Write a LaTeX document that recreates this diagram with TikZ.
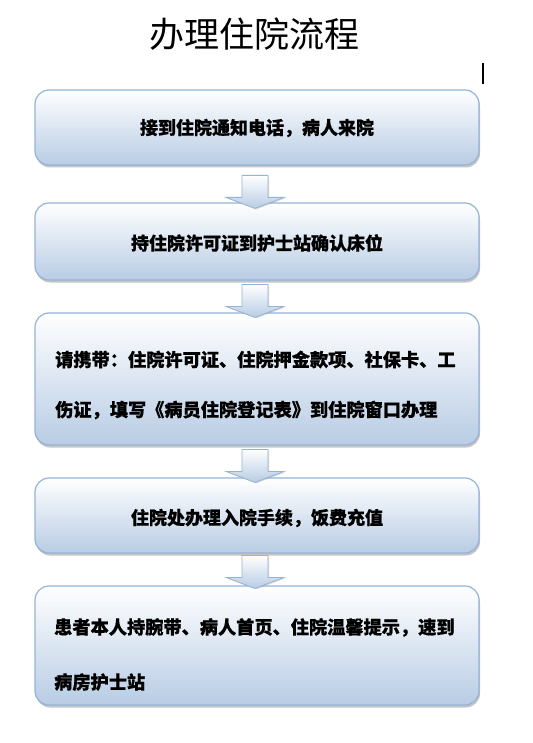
\documentclass[tikz,border=0pt]{standalone}
\usepackage{fontspec}
\newfontfamily\cjk{Noto Sans CJK SC}
\newfontfamily\cjkheavy[FakeBold=0.6]{Noto Sans CJK SC}
\usetikzlibrary{shadows,calc}
\definecolor{boxedge}{RGB}{149,179,215}
\definecolor{boxbot}{RGB}{184,204,228}
\tikzset{
  stepbox/.style={draw=boxedge, line width=1.2pt, rounded corners=14pt,
    top color=white, bottom color=boxbot, minimum width=444pt,
    drop shadow={shadow xshift=1pt, shadow yshift=-2.5pt, fill=black!50, opacity=0.45}},
  steptext/.style={font=\cjkheavy\bfseries\fontsize{18}{18}\selectfont, inner sep=0pt},
  longtext/.style={steptext, anchor=west, align=left},
  downarrow/.style={draw=boxedge, line width=0.8pt, top color=white, bottom color=boxbot,
    drop shadow={shadow xshift=1.2pt, shadow yshift=-1pt, fill=black!40, opacity=0.35}},
}
\begin{document}
\begin{tikzpicture}[x=1pt,y=-1pt]
\useasboundingbox[fill=white] (0,0) rectangle (532,743);

\node[font=\cjk\fontsize{35}{35}\selectfont, inner sep=0pt] (title) at (254,34) {办理住院流程};
\coordinate (bartop) at (483,63);
\coordinate (barbot) at (483,84);
\draw[line width=1.5pt] (bartop) -- (barbot);

\node[stepbox, minimum height=75pt] (b1) at (257,127.5) {};
\node[stepbox, minimum height=77pt] (b2) at (257,241.5) {};
\node[stepbox, minimum height=132pt] (b3) at (257,379) {};
\node[stepbox, minimum height=75pt] (b4) at (257,515.5) {};
\node[stepbox, minimum height=119pt] (b5) at (257,645.5) {};

\node[steptext] (t1) at (257,128) {接到住院通知电话，病人来院};
\node[steptext] (t2) at (257,243) {持住院许可证到护士站确认床位};
\node[longtext, font=\cjkheavy\bfseries\fontsize{18.2}{50}\selectfont] (t3) at (55,385)
  {请携带：住院许可证、住院押金款项、社保卡、工\\伤证，填写《病员住院登记表》到住院窗口办理};
\node[steptext] (t4) at (257,518) {住院处办理入院手续，饭费充值};
\node[longtext, font=\cjkheavy\bfseries\fontsize{18.2}{55}\selectfont] (t5) at (54,654.5)
  {患者本人持腕带、病人首页、住院温馨提示，速到\\病房护士站};

\foreach \a/\b/\d in {b1/b2/6, b2/b3/5, b3/b4/5, b4/b5/3}{
  \draw[downarrow] ($(\b.north)+(-2,\d)$) -- +(29,-11) -- +(13,-11) -- +(13,-33)
    -- +(-13,-33) -- +(-13,-11) -- +(-29,-11) -- cycle;
}
\end{tikzpicture}
\end{document}
